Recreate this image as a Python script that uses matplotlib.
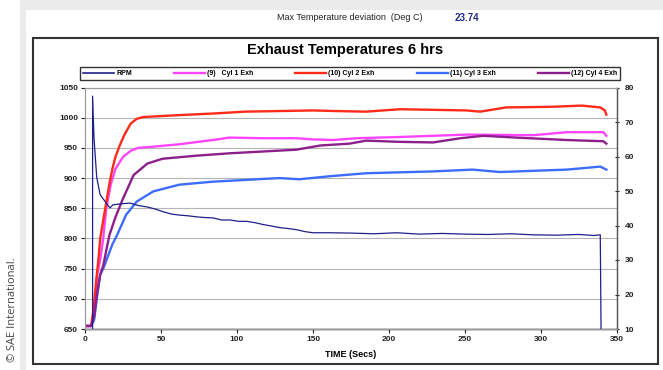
import matplotlib
matplotlib.use("Agg")
import matplotlib.pyplot as plt
import matplotlib.patches as patches
from matplotlib.lines import Line2D

plt.rcParams['font.family'] = ['Liberation Sans', 'DejaVu Sans']

# values (time axis 0-350)
rpm_t = [5, 5, 5.9, 7.7, 9.9, 11, 14, 16.4, 18.4, 24, 29.6, 35, 40.6, 46, 51.3, 57, 62.5,
         68, 73.5, 79, 84.2, 90, 95.4, 101, 106.4, 112, 117, 122, 128, 134, 139, 145,
         150, 161, 175, 190, 205, 220, 235, 250, 265, 280, 295, 310, 325, 335, 339, 339.5]
rpm = [10, 77.5, 65.5, 54, 49, 48.3, 46.5, 45.1, 46, 46.3, 46.5, 45.8, 45.4, 44.8, 44, 43.3, 43,
       42.8, 42.5, 42.3, 42.2, 41.6, 41.6, 41.2, 41.2, 40.8, 40.3, 39.9, 39.4, 39.1, 38.8, 38.2,
       37.9, 37.9, 37.8, 37.6, 37.9, 37.5, 37.7, 37.5, 37.4, 37.6, 37.3, 37.2, 37.4, 37.1, 37.3, 10]

cyl2_t = [0, 4, 5.5, 7, 8, 9, 10, 12, 14, 16, 18, 20, 23, 26, 30, 34, 38, 45, 60, 85, 105,
          128, 150, 165, 185, 207, 230, 251, 260, 277, 306, 327, 339, 342, 343]
cyl2 = [655, 655, 680, 720, 745, 770, 800, 830, 860, 890, 915, 935, 955, 972, 990, 998, 1001,
        1002, 1004, 1007, 1010, 1011, 1012, 1011, 1010, 1014, 1013, 1012, 1010, 1017, 1018,
        1020, 1017, 1012, 1005]

cyl1_t = [0, 4, 5.5, 7, 8, 10, 12, 14, 17, 20, 25, 30, 35, 45, 62, 84, 95, 117, 139, 150,
          163, 179, 207, 240, 251, 295, 317, 341, 343]
cyl1 = [655, 655, 670, 710, 740, 765, 800, 850, 890, 915, 935, 945, 950, 952, 956, 963, 967,
        966, 966, 964, 963, 966, 968, 971, 972, 971, 976, 976, 970]

cyl4_t = [0, 4, 6, 8, 10, 12, 14, 16, 20, 25, 32, 41, 51, 73, 95, 117, 139, 155, 174, 185,
          207, 229, 247, 262, 284, 317, 341, 343]
cyl4 = [655, 655, 670, 710, 740, 755, 780, 805, 835, 866, 905, 924, 932, 937, 941, 944, 947,
        954, 957, 962, 960, 959, 966, 970, 967, 963, 961, 957]

cyl3_t = [0, 4, 6, 8, 10, 12, 15, 18, 21, 27, 34, 45, 62, 84, 106, 128, 141, 161, 185, 229,
          255, 273, 317, 339, 343]
cyl3 = [655, 655, 665, 705, 740, 750, 770, 790, 805, 839, 861, 878, 889, 894, 897, 900, 898,
        903, 908, 911, 914, 910, 914, 919, 914]

x_ticks = [0, 50, 100, 150, 200, 250, 300, 350]
left_ticks = [650, 700, 750, 800, 850, 900, 950, 1000, 1050]
right_ticks = [10, 20, 30, 40, 50, 60, 70, 80]
labels = ["RPM", "(9)   Cyl 1 Exh", "(10) Cyl 2 Exh", "(11) Cyl 3 Exh", "(12) Cyl 4 Exh"]
colors = ["#1f1f8a", "#ff44ff", "#ff2a1a", "#3d6dff", "#8c1f8c"]

W, H = 663, 370
fig = plt.figure(figsize=(W / 100, H / 100), dpi=100)
fig.patch.set_facecolor("white")

# page shadow + chart frame
fig.patches.append(patches.Rectangle((20 / W, 0), 1, 1, transform=fig.transFigure,
                                     facecolor="#ebebeb", edgecolor="none", zorder=-3))
fig.patches.append(patches.Rectangle((26 / W, 0), 1, 360 / H, transform=fig.transFigure,
                                     facecolor="white", edgecolor="none", zorder=-2))
fig.patches.append(patches.Rectangle((33 / W, 6 / H), 625 / W, 326 / H, transform=fig.transFigure,
                                     fill=False, edgecolor="#333333", linewidth=1.5, zorder=-1))

ax = fig.add_axes([85 / W, 1 - 329 / H, 532 / W, 241.5 / H])
ax2 = ax.twinx()

ax.plot(cyl1_t, cyl1, color=colors[1], lw=1.7)
ax.plot(cyl2_t, cyl2, color=colors[2], lw=1.7)
ax.plot(cyl3_t, cyl3, color=colors[3], lw=1.7)
ax.plot(cyl4_t, cyl4, color=colors[4], lw=1.7)
ax2.plot(rpm_t, rpm, color=colors[0], lw=0.9)

ax.set_xlim(0, 350)
ax.set_ylim(650, 1050)
ax2.set_ylim(10, 80)
ax.set_xticks(x_ticks)
ax.set_yticks(left_ticks)
ax2.set_yticks(right_ticks)
ax.yaxis.grid(True, color="#b5b5b5", lw=0.8)
ax.set_axisbelow(True)

for a in (ax, ax2):
    for s in a.spines.values():
        s.set_color("#9a9a9a")
        s.set_linewidth(0.8)
ax.spines["bottom"].set_color("black")
ax.spines["bottom"].set_linewidth(1.0)
ax2.spines["right"].set_color("#555555")
ax2.spines["right"].set_linewidth(1.0)

ax.tick_params(axis="both", labelsize=6, length=3, width=0.8, colors="#222222", pad=2)
ax2.tick_params(axis="y", labelsize=6, length=3, width=0.8, colors="#222222",
                direction="inout", pad=4)
for t in ax.get_xticklabels() + ax.get_yticklabels() + ax2.get_yticklabels():
    t.set_fontweight("bold")

ax.set_xlabel("TIME (Secs)", fontsize=6.5, fontweight="bold", labelpad=5)

fig.text(0.52, 1 - 50 / H, "Exhaust Temperatures 6 hrs", ha="center", va="center",
         fontsize=10.5, fontweight="bold")
fig.text(423 / W, 1 - 18 / H, "Max Temperature deviation  (Deg C)", ha="right", va="center",
         fontsize=6.5, color="#222222")
fig.text(455 / W, 1 - 18 / H, "23.74", ha="left", va="center", fontsize=7,
         fontweight="bold", color="#1f2a8a")
fig.text(13 / W, 1 - 310 / H, "\u00a9 SAE International.", rotation=90, ha="center",
         va="center", fontsize=8, color="#444444", family=["Open Sans", "DejaVu Sans"])

handles = [Line2D([0], [0], color=c, lw=1.7 if i else 1.2) for i, c in enumerate(colors)]
leg = fig.legend(handles, labels, loc="lower left", ncol=5, mode="expand",
                 bbox_to_anchor=(80 / W, 1 - 80 / H, 540 / W, 18 / H), borderaxespad=0,
                 fontsize=5, frameon=True, fancybox=False, edgecolor="black",
                 handlelength=4.5, handletextpad=0.3, borderpad=0.4)
leg.get_frame().set_linewidth(1.0)
for t in leg.get_texts():
    t.set_fontweight("bold")

fig.savefig("out.png", dpi=100)
